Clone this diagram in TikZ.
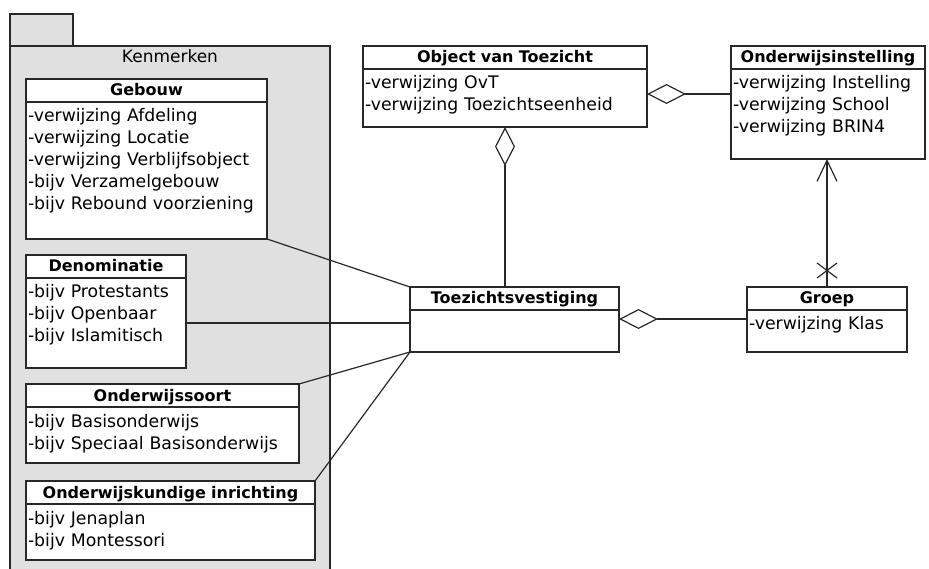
\documentclass[tikz,border=0pt]{standalone}
\usepackage{fontspec}
\setmainfont{DejaVu Sans}
\usetikzlibrary{positioning,arrows.meta}
\definecolor{pkgfill}{RGB}{224,224,224}
\definecolor{umlline}{RGB}{40,40,40}

\begin{document}
\begin{tikzpicture}
[x=1pt,y=-1pt,
 every node/.style={inner sep=0pt,outer sep=0pt},
 head/.style={draw=umlline,fill=white,line width=1.2pt,anchor=north west,align=center,
   font=\fontsize{16}{22}\selectfont\bfseries,inner xsep=2pt,minimum height=23pt,
   text height=13.5pt,text depth=2.5pt,text width=#1-4pt},
 attr/.style={draw=umlline,fill=white,line width=1.2pt,align=left,
   font=\fontsize{17.3}{22}\selectfont,inner xsep=2pt,inner ysep=6pt,
   text height=14pt,text width=#1-4pt},
 link/.style={draw=umlline,line width=1.2pt},
 agg/.style={link,-{Diamond[open,length=39pt,width=20pt]}},
 nav/.style={link,-{Straight Barb[length=21pt,width=20pt]}}]
\useasboundingbox (0,0) rectangle (929,569);
\clip (0,0) rectangle (929,569);
% package Kenmerken
\draw[umlline,fill=pkgfill,line width=1.2pt] (10,14) rectangle (73,46);
\draw[umlline,fill=pkgfill,line width=1.2pt] (10,46) rectangle (330,600);
\node[anchor=base,font=\fontsize{17}{22}\selectfont] (pkgname) at (170,63) {Kenmerken};
\node[head=241pt] (gebouwH) at (26,79) {Gebouw};
\node[attr=241pt,text depth=111pt,below=0pt of gebouwH] (gebouwB)
  {-verwijzing Afdeling\\-verwijzing Locatie\\-verwijzing Verblijfsobject\\-bijv Verzamelgebouw\\-bijv Rebound voorziening};
\node[head=160pt] (denomH) at (26,255) {Denominatie};
\node[attr=160pt,text depth=64pt,below=0pt of denomH] (denomB)
  {-bijv Protestants\\-bijv Openbaar\\-bijv Islamitisch};
\node[head=273pt] (soortH) at (26,384) {Onderwijssoort};
\node[attr=273pt,text depth=30pt,below=0pt of soortH] (soortB)
  {-bijv Basisonderwijs\\-bijv Speciaal Basisonderwijs};
\node[head=289pt] (inrichtH) at (26,481) {Onderwijskundige inrichting};
\node[attr=289pt,text depth=30pt,below=0pt of inrichtH] (inrichtB)
  {-bijv Jenaplan\\-bijv Montessori};
% right hand classes
\node[head=284pt] (objectH) at (363,46) {Object van Toezicht};
\node[attr=284pt,text depth=32pt,below=0pt of objectH] (objectB)
  {-verwijzing OvT\\-verwijzing Toezichtseenheid};
\node[head=194pt] (instH) at (731,46) {Onderwijsinstelling};
\node[attr=194pt,text depth=64pt,below=0pt of instH] (instB)
  {-verwijzing Instelling\\-verwijzing School\\-verwijzing BRIN4};
\node[head=209pt] (toezichtH) at (410,287) {Toezichtsvestiging};
\node[attr=209pt,text depth=16pt,below=0pt of toezichtH] (toezichtB) {};
\node[head=160pt] (groepH) at (747,287) {Groep};
\node[attr=160pt,text depth=16pt,below=0pt of groepH] (groepB) {-verwijzing Klas};
% associations
\draw[agg] (toezichtH.north -| objectB.south) -- (objectB.south);
\draw[agg] ([yshift=-25pt]instH.south west) -- ([yshift=-25pt]objectH.south east);
\draw[agg] ([yshift=-9pt]groepH.south west) -- ([yshift=-9pt]toezichtH.south east);
\draw[nav] (groepH.north) -- (groepH.north |- instB.south);
\draw[link] ([shift={(-10,-24)}]groepH.north) -- ([shift={(10,-9)}]groepH.north)
            ([shift={(10,-24)}]groepH.north) -- ([shift={(-10,-9)}]groepH.north);
\draw[link] (gebouwB.south east) -- (toezichtH.north west);
\draw[link] (denomB.east) -- (denomB.east -| toezichtB.west);
\draw[link] (soortH.north east) -- (toezichtB.south west);
\draw[link] (inrichtH.north east) -- (toezichtB.south west);
\end{tikzpicture}
\end{document}
